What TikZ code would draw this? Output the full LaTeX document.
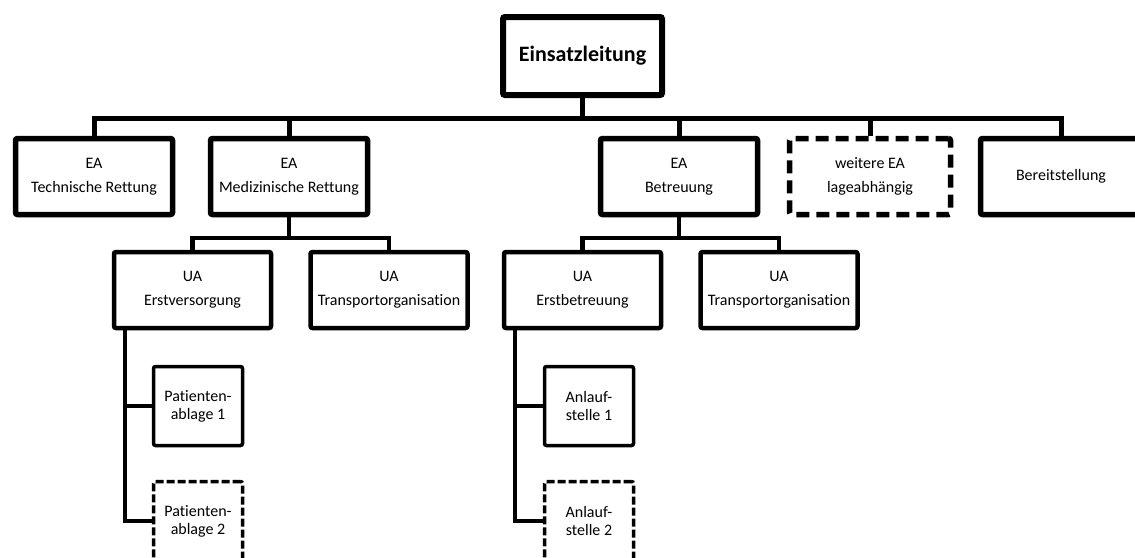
\documentclass[tikz,border=0pt]{standalone}
\usepackage{fontspec}
\setmainfont{Carlito}[Ligatures={NoCommon,NoContextual}]
\begin{document}
\begin{tikzpicture}[x=1pt,y=-1pt,
  box/.style={draw=black,rectangle,rounded corners=2pt,align=center,inner sep=0pt,
     font=\fontsize{16}{24}\selectfont},
  lvtop/.style={box,line width=6pt,minimum width=159pt,minimum height=78pt,
     font=\fontsize{22}{24}\selectfont\bfseries},
  lvone/.style={box,line width=5.5pt,minimum width=157pt,minimum height=76pt},
  lvtwo/.style={box,line width=4.5pt,minimum width=157pt,minimum height=76pt},
  lvthree/.style={box,line width=3.5pt,minimum width=89pt,minimum height=79pt,
     font=\fontsize{16}{18}\selectfont},
  dashone/.style={dash pattern=on 13pt off 7pt},
  dashthree/.style={dash pattern=on 8pt off 3pt},
  conone/.style={line width=5pt},
  contwo/.style={line width=4.5pt},
  conthree/.style={line width=3.5pt}]
\clip (0,0) rectangle (1135,557);
\fill[white] (0,0) rectangle (1135,557);
% top
\node[lvtop] (top) at (582.5,56) {Einsatzleitung};
% level 1
\node[lvone] (tech) at (94,176.5) {EA\\Technische Rettung};
\node[lvone] (med) at (289,176.5) {EA\\Medizinische Rettung};
\node[lvone] (betr) at (679,176.5) {EA\\Betreuung};
\node[lvone,dashone,minimum width=161pt] (weit) at (870,176.5) {weitere EA\\lageabhängig};
\node[lvone,minimum width=161pt] (bereit) at (1061,176.5) {Bereitstellung};
% level 2
\node[lvtwo] (erstv) at (192.5,290) {UA\\Erstversorgung};
\node[lvtwo] (trans1) at (389,290) {UA\\Transportorganisation};
\node[lvtwo] (erstb) at (582.5,290) {UA\\Erstbetreuung};
\node[lvtwo] (trans2) at (779,290) {UA\\Transportorganisation};
% level 3
\node[lvthree] (pa1) at (198,406) {Patienten-\\ablage 1};
\node[lvthree,dashthree] (pa2) at (198,521) {Patienten-\\ablage 2};
\node[lvthree] (as1) at (589,406) {Anlauf-\\stelle 1};
\node[lvthree,dashthree] (as2) at (589,521) {Anlauf-\\stelle 2};
% connectors level 0-1
\coordinate (busy) at (0,118);
\draw[conone] (tech.north) |- (busy -| bereit.north) -- (bereit.north);
\draw[conone] (top.south) -- (top.south |- busy);
\draw[conone] (med.north) -- (med.north |- busy);
\draw[conone] (betr.north) -- (betr.north |- busy);
\draw[conone] (weit.north) -- (weit.north |- busy);
% connectors level 1-2
\coordinate (bustwo) at (0,238);
\draw[contwo] (med.south) -- (med.south |- bustwo);
\draw[contwo] (erstv.north) |- (bustwo -| trans1.north) -- (trans1.north);
\draw[contwo] (betr.south) -- (betr.south |- bustwo);
\draw[contwo] (erstb.north) |- (bustwo -| trans2.north) -- (trans2.north);
% connectors level 2-3
\draw[conthree] (erstv.south west) ++(13,0) coordinate (tl) |- (pa2.west);
\draw[conthree] (tl |- pa1.west) -- (pa1.west);
\draw[conthree] (erstb.south west) ++(13,0) coordinate (tr) |- (as2.west);
\draw[conthree] (tr |- as1.west) -- (as1.west);
\end{tikzpicture}
\end{document}
